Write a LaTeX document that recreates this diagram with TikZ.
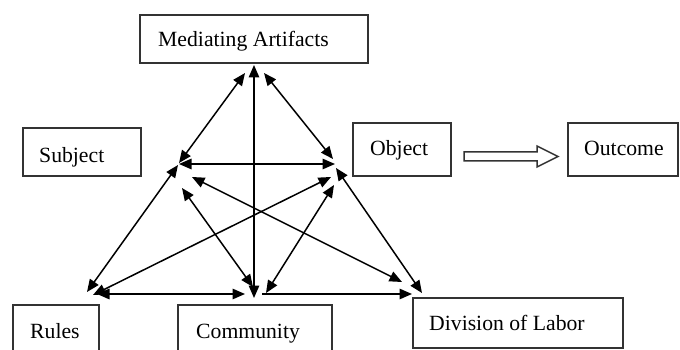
\documentclass[tikz,border=0pt]{standalone}
\usepackage{fontspec}
\setmainfont{Liberation Serif}
\usetikzlibrary{arrows.meta}
\begin{document}
\begin{tikzpicture}[x=1pt,y=-1pt,
  box/.style={draw=black!80, line width=1.6pt, inner sep=0pt, fill=none},
  txt/.style={anchor=base west, inner sep=0pt, font=\fontsize{21.7}{26}\selectfont},
  tip/.tip={Triangle[length=12.5pt,width=10.5pt]},
  link/.style={line width=1.5pt, tip-tip},
  onelink/.style={line width=1.5pt, -tip}
]
\useasboundingbox (0,0) rectangle (680,350);
\clip (0,0) rectangle (680,350);
\fill[white] (0,0) rectangle (680,350);

% boxes
\node[box, minimum width=228pt, minimum height=48pt] (ma) at (254,39) {};
\node[box, minimum width=118pt, minimum height=48pt] (subj) at (82,152) {};
\node[box, minimum width=98pt, minimum height=53pt] (obj) at (402,149.5) {};
\node[box, minimum width=110pt, minimum height=53pt] (out) at (623,149.5) {};
\node[box, minimum width=86pt, minimum height=60pt] (rules) at (56,335) {};
\node[box, minimum width=154pt, minimum height=60pt] (comm) at (255,335) {};
\node[box, minimum width=210pt, minimum height=50pt] (dol) at (518,323) {};

% texts
\node[txt] (mat) at (158,47) {Mediating Artifacts};
\node[txt] (subjt) at (39,162) {Subject};
\node[txt] (objt) at (370,156) {Object};
\node[txt] (outt) at (584,156) {Outcome};
\node[txt] (rulest) at (30,338) {Rules};
\node[txt] (commt) at (196,338) {Community};
\node[txt] (dolt) at (429,330) {Division of Labor};

% hollow arrow Object -> Outcome
\draw[line width=1.5pt, draw=black!80, fill=white]
  (464,152) -- (537,152) -- (537,146) -- (558,156.5) -- (537,167) -- (537,161) -- (464,161) -- cycle;

% end points
\coordinate (TL) at (245,73);   \coordinate (LT) at (179,163);
\coordinate (TR) at (264,73);   \coordinate (RT) at (333,159);
\coordinate (TM) at (254,65);   \coordinate (MT) at (254,298);
\coordinate (LR) at (179,164);  \coordinate (RL) at (335,164);
\coordinate (LB) at (178,165);  \coordinate (BLL) at (87,292);
\coordinate (RB) at (336,168);  \coordinate (BRR) at (422,293);
\coordinate (BLR) at (93,295);  \coordinate (RBL) at (331,177);
\coordinate (LBR) at (192,177); \coordinate (BRL) at (402,282);
\coordinate (LM) at (182,188);  \coordinate (ML) at (253,287);
\coordinate (RM) at (334,185);  \coordinate (MR) at (266,293);
\coordinate (BLM) at (97,294);  \coordinate (MBL) at (245,294);
\coordinate (MBR) at (262,294); \coordinate (BRM) at (412,294);

\draw[link] (TL) -- (LT);
\draw[link] (TR) -- (RT);
\draw[link] (TM) -- (MT);
\draw[link] (LR) -- (RL);
\draw[link] (LB) -- (BLL);
\draw[link] (RB) -- (BRR);
\draw[link] (BLR) -- (RBL);
\draw[link] (LBR) -- (BRL);
\draw[link] (LM) -- (ML);
\draw[link] (RM) -- (MR);
\draw[link] (BLM) -- (MBL);
\draw[onelink] (MBR) -- (BRM);
\end{tikzpicture}
\end{document}
